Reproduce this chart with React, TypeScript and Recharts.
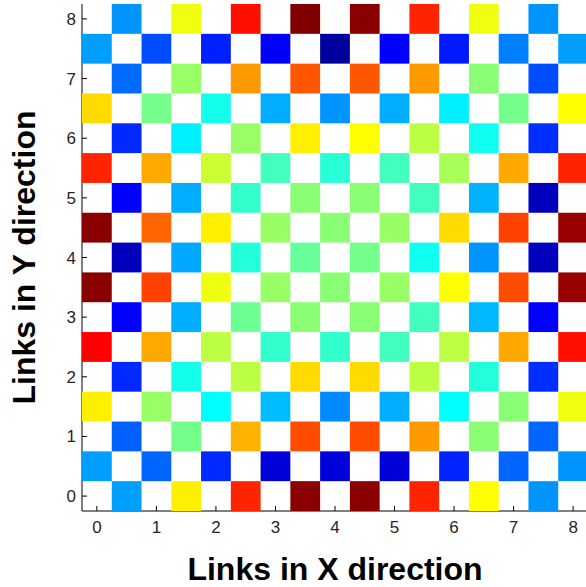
import { ScatterChart, Scatter, XAxis, YAxis, Label } from "recharts";

// link loads on a 9x9 mesh, normalised 0..1 (drawn with a jet colour map)
// horizontal links: one row per y = 0..8, link between x=i and x=i+1
const hLinkLoad = [
  [0.28, 0.64, 0.84, 0.99, 0.99, 0.84, 0.625, 0.27],
  [0.22, 0.49, 0.7, 0.8, 0.8, 0.725, 0.51, 0.225],
  [0.165, 0.395, 0.56, 0.66, 0.66, 0.56, 0.41, 0.17],
  [0.125, 0.295, 0.48, 0.51, 0.51, 0.44, 0.305, 0.125],
  [0.06, 0.29, 0.41, 0.475, 0.49, 0.39, 0.27, 0.06],
  [0.125, 0.295, 0.425, 0.51, 0.51, 0.44, 0.3, 0.06],
  [0.165, 0.36, 0.525, 0.64, 0.625, 0.56, 0.39, 0.17],
  [0.23, 0.525, 0.725, 0.79, 0.79, 0.725, 0.51, 0.2],
  [0.27, 0.61, 0.86, 1.0, 0.99, 0.84, 0.61, 0.27],
];

// vertical links: one row per y = 0.5..7.5, one value per x = 0..8
const vLinkLoad = [
  [0.28, 0.225, 0.165, 0.09, 0.09, 0.09, 0.16, 0.225, 0.27],
  [0.64, 0.525, 0.375, 0.31, 0.26, 0.295, 0.375, 0.51, 0.61],
  [0.875, 0.71, 0.56, 0.425, 0.425, 0.44, 0.56, 0.71, 0.86],
  [0.99, 0.81, 0.61, 0.525, 0.51, 0.525, 0.625, 0.8, 0.975],
  [0.99, 0.775, 0.64, 0.525, 0.51, 0.525, 0.66, 0.81, 0.975],
  [0.84, 0.71, 0.575, 0.44, 0.415, 0.44, 0.54, 0.71, 0.84],
  [0.66, 0.49, 0.395, 0.295, 0.27, 0.295, 0.36, 0.49, 0.625],
  [0.28, 0.2, 0.155, 0.12, 0.03, 0.125, 0.15, 0.25, 0.28],
];

const axisTicks = [0, 1, 2, 3, 4, 5, 6, 7, 8];
const DOMAIN: [number, number] = [-0.25, 8.25];

const CHART_W = 600;
const CHART_H = 587;
const MARGIN = { top: 4, right: 0, bottom: 0, left: 0 };
const Y_AXIS_W = 82;
const RIGHT_AXIS_W = 12;
const X_AXIS_H = 76;
const PLOT_W = CHART_W - MARGIN.left - MARGIN.right - Y_AXIS_W - RIGHT_AXIS_W;
const PLOT_H = CHART_H - MARGIN.top - MARGIN.bottom - X_AXIS_H;
const CELL_W = (PLOT_W * 0.5) / (DOMAIN[1] - DOMAIN[0]);
const CELL_H = (PLOT_H * 0.5) / (DOMAIN[1] - DOMAIN[0]);

const FONT = "'Liberation Sans', Arial, Helvetica, sans-serif";

function jet(v: number) {
  const c = (t: number) =>
    Math.round(255 * Math.min(1, Math.max(0, 1.5 - Math.abs(4 * v - t))));
  return `rgb(${c(3)},${c(2)},${c(1)})`;
}

type Cell = { x: number; y: number; v: number };
const cells: Cell[] = [];
hLinkLoad.forEach((row, j) =>
  row.forEach((v, i) => cells.push({ x: i + 0.5, y: j, v }))
);
vLinkLoad.forEach((row, j) =>
  row.forEach((v, i) => cells.push({ x: i, y: j + 0.5, v }))
);

const CellShape = (props: any) => {
  const { cx, cy, payload } = props;
  return (
    <rect
      x={cx - CELL_W / 2}
      y={cy - CELL_H / 2}
      width={CELL_W}
      height={CELL_H}
      fill={jet(payload.v)}
    />
  );
};

const tickText = { fontFamily: FONT, fontSize: 17, fill: "#262626" };

const BottomTick = (props: any) => {
  const { x, y, payload } = props;
  return (
    <g>
      <line x1={x} x2={x} y1={y} y2={y - 5} stroke="#000" />
      <text x={x} y={y + 22} textAnchor="middle" {...tickText}>
        {payload.value}
      </text>
    </g>
  );
};

const TopTick = (props: any) => {
  const { x, y } = props;
  return <line x1={x} x2={x} y1={y} y2={y + 5} stroke="#000" />;
};

const LeftTick = (props: any) => {
  const { x, y, payload } = props;
  return (
    <g>
      <line x1={x} x2={x + 5} y1={y} y2={y} stroke="#000" />
      <text x={x - 6} y={y + 6} textAnchor="end" {...tickText}>
        {payload.value}
      </text>
    </g>
  );
};

const RightTick = (props: any) => {
  const { x, y } = props;
  return <line x1={x} x2={x - 5} y1={y} y2={y} stroke="#000" />;
};

export default function App() {
  return (
    <div
      style={{
        width: 586,
        height: 587,
        overflow: "hidden",
        background: "#fff",
        fontFamily: FONT,
      }}
    >
      <style>{`body{margin:0}`}</style>
      <ScatterChart width={CHART_W} height={CHART_H} margin={MARGIN}>
        <XAxis
          type="number"
          dataKey="x"
          domain={DOMAIN}
          ticks={axisTicks}
          interval={0}
          height={X_AXIS_H}
          tickSize={0}
          tickMargin={0}
          tick={(p: any) => <BottomTick {...p} />}
          axisLine={{ stroke: "#000" }}
        >
          <Label
            content={(p: any) => {
              const vb = p.viewBox;
              return (
                <text
                  x={vb.x + vb.width / 2}
                  y={vb.y + vb.height - 7}
                  textAnchor="middle"
                  fontFamily={FONT}
                  fontWeight="bold"
                  fontSize={32}
                  fill="#000"
                >
                  Links in X direction
                </text>
              );
            }}
          />
        </XAxis>
        <XAxis
          xAxisId="top"
          orientation="top"
          type="number"
          domain={DOMAIN}
          ticks={axisTicks}
          interval={0}
          height={0}
          tickSize={0}
          tickMargin={0}
          tick={(p: any) => <TopTick {...p} />}
          axisLine={{ stroke: "#000" }}
        />
        <YAxis
          type="number"
          dataKey="y"
          domain={DOMAIN}
          ticks={axisTicks}
          interval={0}
          width={Y_AXIS_W}
          tickSize={0}
          tickMargin={0}
          tick={(p: any) => <LeftTick {...p} />}
          axisLine={{ stroke: "#000" }}
        >
          <Label
            content={(p: any) => {
              const vb = p.viewBox;
              const cy = vb.y + vb.height / 2;
              return (
                <text
                  x={35}
                  y={cy}
                  transform={`rotate(-90 35 ${cy})`}
                  textAnchor="middle"
                  fontFamily={FONT}
                  fontWeight="bold"
                  fontSize={32}
                  fill="#000"
                >
                  Links in Y direction
                </text>
              );
            }}
          />
        </YAxis>
        <YAxis
          yAxisId="right"
          orientation="right"
          type="number"
          domain={DOMAIN}
          ticks={axisTicks}
          interval={0}
          width={RIGHT_AXIS_W}
          tickSize={0}
          tickMargin={0}
          tick={(p: any) => <RightTick {...p} />}
          axisLine={{ stroke: "#000" }}
        />
        <Scatter data={cells} shape={CellShape} isAnimationActive={false} />
      </ScatterChart>
    </div>
  );
}
